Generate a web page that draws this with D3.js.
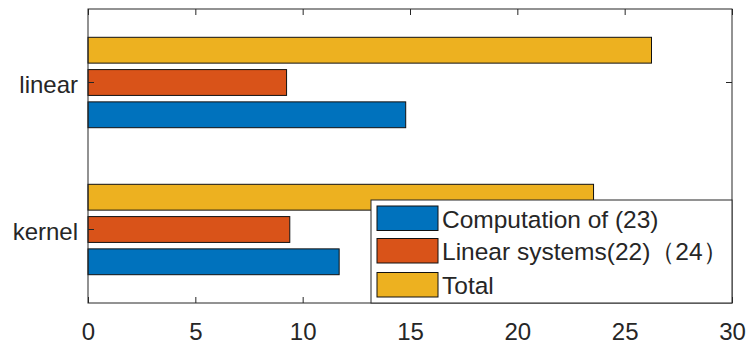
<!DOCTYPE html>
<html>
<head>
<meta charset="utf-8">
<script src="https://cdn.jsdelivr.net/npm/d3@7"></script>
<style>
  html, body { margin: 0; padding: 0; background: #fff; }
  svg { display: block; }
  text { font-family: "Liberation Sans", Arial, Helvetica, sans-serif; fill: #262626; }
</style>
</head>
<body>
<svg id="chart" width="747" height="345"></svg>
<script>
// Categories (top to bottom) and the three series per category
const categories = ["linear", "kernel"];
const seriesNames = ["Computation of (23)", "Linear systems(22)\uFF0824\uFF09", "Total"];
const computation = [14.8, 11.7];
const linearSystems = [9.25, 9.4];
const total = [26.25, 23.55];
const xTicks = [0, 5, 10, 15, 20, 25, 30];
const colors = ["#0072BD", "#D95319", "#EDB120"];

const seriesValues = [computation, linearSystems, total];

const svg = d3.select("#chart");
const plot = { left: 88, right: 732, top: 9, bottom: 303 };
const axisColor = "#262626";

const x = d3.scaleLinear().domain([0, 30]).range([plot.left, plot.right]);
const y = d3.scaleBand().domain(categories).range([plot.top, plot.bottom]).padding(0);

// Within each category: Total on top, Computation at the bottom
const groupFrac = 0.615;
const inner = d3.scaleBand()
  .domain([2, 1, 0])
  .range([0, y.bandwidth() * groupFrac])
  .paddingInner(0.2)
  .paddingOuter(0);

const rows = [];
categories.forEach((c, ci) => {
  seriesValues.forEach((vals, si) => {
    rows.push({ cat: c, s: si, v: vals[ci] });
  });
});

svg.append("g").selectAll("rect")
  .data(rows)
  .join("rect")
  .attr("x", x(0))
  .attr("y", d => y(d.cat) + y.bandwidth() * (1 - groupFrac) / 2 + inner(d.s))
  .attr("width", d => x(d.v) - x(0))
  .attr("height", inner.bandwidth())
  .attr("fill", d => colors[d.s])
  .attr("stroke", "#111")
  .attr("stroke-width", 1);

// Axes with inward ticks on all four sides
const tickLen = 6;
const fontSize = 24;

const gBottom = svg.append("g")
  .attr("transform", `translate(0,${plot.bottom})`)
  .call(d3.axisBottom(x).tickValues(xTicks).tickSizeInner(-tickLen).tickSizeOuter(0).tickPadding(20));
const gTop = svg.append("g")
  .attr("transform", `translate(0,${plot.top})`)
  .call(d3.axisTop(x).tickValues(xTicks).tickSizeInner(-tickLen).tickSizeOuter(0).tickFormat(""));
const gLeft = svg.append("g")
  .attr("transform", `translate(${plot.left},0)`)
  .call(d3.axisLeft(y).tickSizeInner(-tickLen).tickSizeOuter(0).tickPadding(10));
const gRight = svg.append("g")
  .attr("transform", `translate(${plot.right},0)`)
  .call(d3.axisRight(y).tickSizeInner(-tickLen).tickSizeOuter(0).tickFormat(""));

[gBottom, gTop, gLeft, gRight].forEach(g => {
  g.select(".domain").remove();
  g.selectAll(".tick line").attr("stroke", axisColor).attr("stroke-width", 1);
  g.selectAll(".tick text")
    .style("font-family", '"Liberation Sans", Arial, sans-serif')
    .style("font-size", fontSize + "px")
    .attr("fill", axisColor);
});
// Category labels sit a little lower, centred on their lowercase letters
gLeft.selectAll(".tick text").attr("dy", "0.43em");

// Box around the plot area
svg.append("rect")
  .attr("x", plot.left).attr("y", plot.top)
  .attr("width", plot.right - plot.left).attr("height", plot.bottom - plot.top)
  .attr("fill", "none").attr("stroke", axisColor).attr("stroke-width", 1);

// Legend, lower right corner inside the axes
const legend = { x: 371, y: 200, w: 361, h: 103 };
const lg = svg.append("g");
lg.append("rect")
  .attr("x", legend.x).attr("y", legend.y)
  .attr("width", legend.w).attr("height", legend.h)
  .attr("fill", "#fff").attr("stroke", "#262626").attr("stroke-width", 1);

const rowY = [206, 238.5, 272.5];
seriesNames.forEach((name, i) => {
  lg.append("rect")
    .attr("x", 377).attr("y", rowY[i])
    .attr("width", 61).attr("height", 24.5)
    .attr("fill", colors[i]).attr("stroke", "#111").attr("stroke-width", 1);
  lg.append("text")
    .attr("x", 442).attr("y", rowY[i] + 13)
    .attr("dy", "0.35em")
    .style("font-size", "24.5px")
    .text(name);
});
</script>
</body>
</html>
